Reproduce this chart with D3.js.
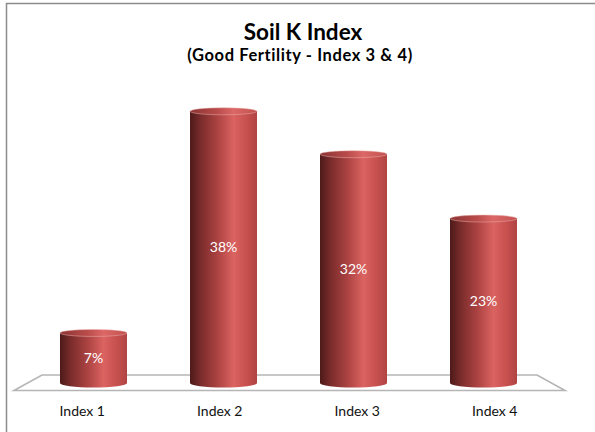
<!DOCTYPE html>
<html>
<head>
<meta charset="utf-8">
<script src="https://cdn.jsdelivr.net/npm/d3@7"></script>
<style>
  html, body { margin: 0; padding: 0; background: #fff; }
  svg { display: block; }
  text { font-family: Lato, "Open Sans", sans-serif; }
</style>
</head>
<body>
<svg id="chart" width="595" height="432"></svg>
<script>
const categories = ["Index 1", "Index 2", "Index 3", "Index 4"];
const values = [7, 38, 32, 23];
const valueLabels = ["7%", "38%", "32%", "23%"];
const title = "Soil K Index";
const subtitle = "(Good Fertility - Index 3 & 4)";

const svg = d3.select("#chart");
const W = 595, H = 432;

// frame
svg.append("rect").attr("x", 6.5).attr("y", 3.5).attr("width", W + 10).attr("height", H + 10)
  .attr("fill", "#fff").attr("stroke", "#8c8c8c").attr("stroke-width", 1.5);

// gradients
const defs = svg.append("defs");
const g1 = defs.append("linearGradient").attr("id", "body").attr("x1", "0").attr("x2", "1").attr("y1", "0").attr("y2", "0");
[["0%", "#4e1a1a"], ["18%", "#7e2e2d"], ["42%", "#ad4443"], ["65%", "#db6361"], ["85%", "#c6504e"], ["100%", "#b04443"]]
  .forEach(([o, c]) => g1.append("stop").attr("offset", o).attr("stop-color", c));
const g2 = defs.append("linearGradient").attr("id", "top").attr("x1", "0").attr("x2", "1").attr("y1", "0").attr("y2", "0");
[["0%", "#8a3433"], ["40%", "#b84b4a"], ["65%", "#dc6866"], ["100%", "#c0504e"]]
  .forEach(([o, c]) => g2.append("stop").attr("offset", o).attr("stop-color", c));

// scales
const x = d3.scalePoint().domain(categories).range([28.5, 548.5]).padding(0.5);
const xLabel = d3.scalePoint().domain(categories).range([13.5, 563.5]).padding(0.5);
const y = d3.scaleLinear().domain([0, 40]).range([383, 97]);

// floor
const floorBack = 375, floorFront = 390.5;
svg.append("path")
  .attr("d", `M42,${floorBack} L537,${floorBack} L565,${floorFront} L14,${floorFront} Z`)
  .attr("fill", "#fff").attr("stroke", "#b5b5b5").attr("stroke-width", 1.6);

// cylinders
const bw = 67, ry = 3.5;
const bars = svg.append("g").selectAll("g").data(categories).join("g");
bars.append("path")
  .attr("d", (d, i) => {
    const x0 = x(d) - bw / 2, x1 = x(d) + bw / 2, yt = y(values[i]), yb = y(0);
    return `M${x0},${yt} L${x0},${yb} A${bw / 2},${ry + 1} 0 0 0 ${x1},${yb} L${x1},${yt} Z`;
  })
  .attr("fill", "url(#body)");
bars.append("ellipse")
  .attr("cx", d => x(d)).attr("cy", (d, i) => y(values[i]))
  .attr("rx", bw / 2).attr("ry", ry)
  .attr("fill", "url(#top)").attr("stroke", "#eab0ae").attr("stroke-width", 0.5);

// value labels
bars.append("text")
  .attr("x", d => x(d))
  .attr("y", (d, i) => (y(values[i]) + y(0)) / 2 + 5)
  .attr("text-anchor", "middle").attr("fill", "#fff").attr("font-size", 14)
  .text((d, i) => valueLabels[i]);

// category labels
svg.append("g").selectAll("text").data(categories).join("text")
  .attr("x", d => xLabel(d)).attr("y", 416)
  .attr("text-anchor", "middle").attr("fill", "#111").attr("font-size", 14)
  .text(d => d);

// titles
svg.append("text").attr("x", 303).attr("y", 40).attr("text-anchor", "middle")
  .attr("font-size", 22.5).attr("font-weight", "bold").attr("fill", "#000").text(title);
svg.append("text").attr("x", 300).attr("y", 61).attr("text-anchor", "middle")
  .attr("font-size", 16.5).attr("letter-spacing", 0.6).attr("font-weight", "bold").attr("fill", "#000").text(subtitle);
</script>
</body>
</html>
